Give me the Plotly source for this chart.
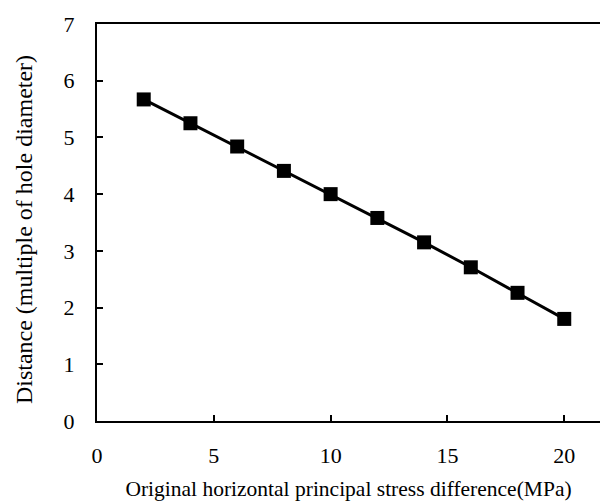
import plotly.graph_objects as go

stress_diff = [2, 4, 6, 8, 10, 12, 14, 16, 18, 20]
distance = [5.67, 5.25, 4.84, 4.41, 4.00, 3.58, 3.15, 2.71, 2.26, 1.80]
x_ticks = [0, 5, 10, 15, 20]
y_ticks = [0, 1, 2, 3, 4, 5, 6, 7]

font_family = "Liberation Serif, Times New Roman, serif"

fig = go.Figure()
fig.add_trace(go.Scatter(
    x=stress_diff, y=distance, mode="lines+markers",
    line=dict(color="black", width=3),
    marker=dict(symbol="square", size=14, color="black"),
    showlegend=False, cliponaxis=False,
))

fig.update_layout(
    width=600, height=501,
    margin=dict(l=97, r=0, t=24, b=80),
    paper_bgcolor="white", plot_bgcolor="white",
    font=dict(family=font_family, color="black"),
    xaxis=dict(
        range=[0, 21.53], tickvals=x_ticks, ticks="inside", ticklen=6,
        tickwidth=1.5, tickcolor="black",
        showline=True, linecolor="black", linewidth=2, mirror=True,
        showgrid=False, zeroline=False,
        tickfont=dict(size=22, family=font_family),
        ticklabelstandoff=14,
        title=dict(text="Original horizontal principal stress difference(MPa)",
                   font=dict(size=21.5, family=font_family), standoff=17),
    ),
    yaxis=dict(
        range=[0, 7], tickvals=y_ticks, ticks="inside", ticklen=6,
        tickwidth=1.5, tickcolor="black",
        showline=True, linecolor="black", linewidth=2,
        showgrid=False, zeroline=False,
        tickfont=dict(size=22, family=font_family),
        ticklabelstandoff=16,
    ),
    annotations=[dict(
        text="Distance (multiple of hole diameter)",
        xref="paper", yref="paper", x=-0.145, y=0.481,
        xanchor="center", yanchor="middle", textangle=-90,
        showarrow=False, font=dict(size=24, family=font_family),
    )],
)

fig.write_html("out.html")
